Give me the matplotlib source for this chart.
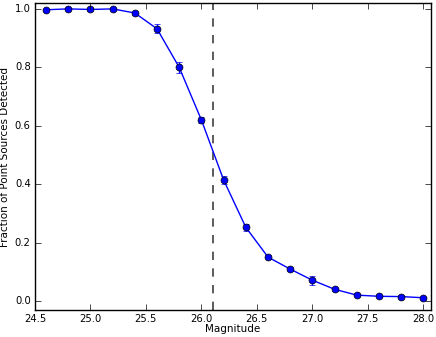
import matplotlib
matplotlib.use("Agg")
import matplotlib.pyplot as plt
import numpy as np

plt.style.use("classic")
plt.rcParams["font.size"] = 7.5

mag = [24.6, 24.8, 25.0, 25.2, 25.4, 25.6, 25.8, 26.0, 26.2, 26.4,
       26.6, 26.8, 27.0, 27.2, 27.4, 27.6, 27.8, 28.0]
frac = [0.997, 1.0, 0.998, 1.0, 0.986, 0.932, 0.80, 0.62, 0.415, 0.253,
        0.151, 0.110, 0.072, 0.041, 0.021, 0.017, 0.016, 0.012]
err = [0.004, 0.004, 0.004, 0.004, 0.006, 0.015, 0.02, 0.01, 0.015, 0.012,
       0.006, 0.006, 0.015, 0.006, 0.004, 0.004, 0.004, 0.004]
limit_mag = 26.1

fig = plt.figure(figsize=(4.36, 3.37), dpi=100)
ax = fig.add_axes([0.08, 0.08, 0.909, 0.911])
ax.errorbar(mag, frac, yerr=err, fmt="o-", color="blue", ecolor="blue",
            mec="black", ms=5, capsize=2, lw=1)
ax.axvline(limit_mag, color="#404040", ls="--", lw=1.2)
ax.set_xlim(24.5, 28.07)
ax.set_ylim(-0.03, 1.02)
ax.set_xticks(np.arange(24.5, 28.01, 0.5))
ax.set_yticks(np.arange(0, 1.01, 0.2))
ax.tick_params(labelsize=7.2, pad=3)
ax.set_xlabel("Magnitude", labelpad=0)
ax.set_ylabel("Fraction of Point Sources Detected", labelpad=0)
ax.yaxis.set_label_coords(-0.062, 0.5)
plt.savefig("out.png", dpi=100)
